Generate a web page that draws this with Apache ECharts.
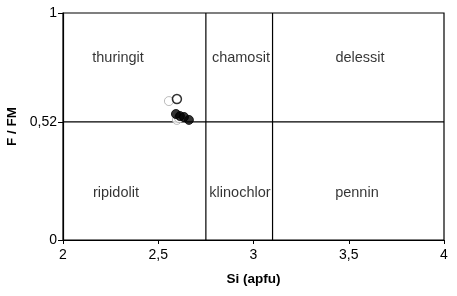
<!DOCTYPE html>
<html><head><meta charset="utf-8">
<script src="https://cdn.jsdelivr.net/npm/echarts@6/dist/echarts.min.js"></script>
<style>html,body{margin:0;padding:0;background:#fff}#c{width:457px;height:296px}</style>
</head><body><div id="c"></div>
<script>
// Data
const xTicks = [2, 2.5, 3, 3.5, 4];
const yTicks = [0, 0.52, 1];
const siBoundaries = [2.75, 3.1];
const ffmBoundary = 0.52;
const filledBlack = [[2.593, 0.555], [2.614, 0.546], [2.635, 0.542], [2.661, 0.529]];
const openGray = [[2.556, 0.612], [2.598, 0.529], [2.609, 0.537]];
const openBlack = [[2.598, 0.621]];
const fieldNames = ['thuringit', 'chamosit', 'delessit', 'ripidolit', 'klinochlor', 'pennin'];
const fieldX = [2.289, 2.934, 3.559, 2.278, 2.929, 3.543];
const fieldY = [0.80, 0.80, 0.80, 0.207, 0.207, 0.207];

const fmt = v => String(v).replace('.', ',');
const FONT = 'Liberation Sans';
const chart = echarts.init(document.getElementById('c'), null, {renderer: 'canvas'});

const lineSeries = [];
siBoundaries.forEach(x => lineSeries.push({
  type: 'line', data: [[x, 0], [x, 1]], symbol: 'none', silent: true,
  lineStyle: {color: '#000', width: 1.2}, z: 1
}));
lineSeries.push({
  type: 'line', data: [[2, ffmBoundary], [4, ffmBoundary]], symbol: 'none', silent: true,
  lineStyle: {color: '#000', width: 1.2}, z: 1
});

chart.setOption({
  animation: false,
  textStyle: {fontFamily: FONT},
  grid: {left: 63, right: 13, top: 13, bottom: 56, outerBoundsMode: 'none', containLabel: false,
         show: true, borderColor: '#000', borderWidth: 1.2, backgroundColor: 'transparent'},
  xAxis: {
    type: 'value', min: 2, max: 4, interval: 0.5,
    name: 'Si (apfu)', nameLocation: 'middle', nameGap: 32,
    nameTextStyle: {fontFamily: FONT, fontWeight: 'bold', fontSize: 13.5, color: '#000'},
    axisLine: {onZero: false, lineStyle: {color: '#000', width: 1.2}},
    axisTick: {show: true, length: 4, lineStyle: {color: '#000'}},
    axisLabel: {formatter: v => fmt(v), color: '#000', fontSize: 14, margin: 8, fontFamily: FONT},
    splitLine: {show: false}
  },
  yAxis: {
    type: 'value', min: 0, max: 1,
    name: 'F / FM', nameLocation: 'middle', nameGap: 44, nameRotate: 90,
    nameTextStyle: {fontFamily: FONT, fontWeight: 'bold', fontSize: 13.5, color: '#000'},
    axisLine: {show: true, onZero: false, lineStyle: {color: '#000', width: 1.2}},
    axisTick: {show: true, length: 5, customValues: yTicks, lineStyle: {color: '#000'}},
    axisLabel: {customValues: yTicks, formatter: v => fmt(v), color: '#000', fontSize: 14, margin: 6, fontFamily: FONT},
    splitLine: {show: false}
  },
  series: [
    ...lineSeries,
    {
      type: 'scatter', data: fieldNames.map((n, i) => ({value: [fieldX[i], fieldY[i]], name: n})),
      symbol: 'circle', symbolSize: 1, silent: true,
      itemStyle: {color: 'rgba(0,0,0,0)'},
      label: {show: true, position: 'inside', formatter: p => p.name, color: '#000', fontSize: 14.5, fontFamily: FONT},
      labelLayout: {hideOverlap: false}, z: 2
    },
    {
      type: 'scatter', data: openGray, symbol: 'circle', symbolSize: 9,
      itemStyle: {color: '#fff', borderColor: '#aaa', borderWidth: 1}, z: 3
    },
    {
      type: 'scatter', data: openBlack, symbol: 'circle', symbolSize: 9,
      itemStyle: {color: 'rgba(255,255,255,0)', borderColor: '#000', borderWidth: 1.5}, z: 4
    },
    {
      type: 'scatter', data: filledBlack, symbol: 'circle', symbolSize: 9,
      itemStyle: {color: '#000', borderColor: '#000', borderWidth: 1}, z: 5
    }
  ]
});
</script></body></html>
